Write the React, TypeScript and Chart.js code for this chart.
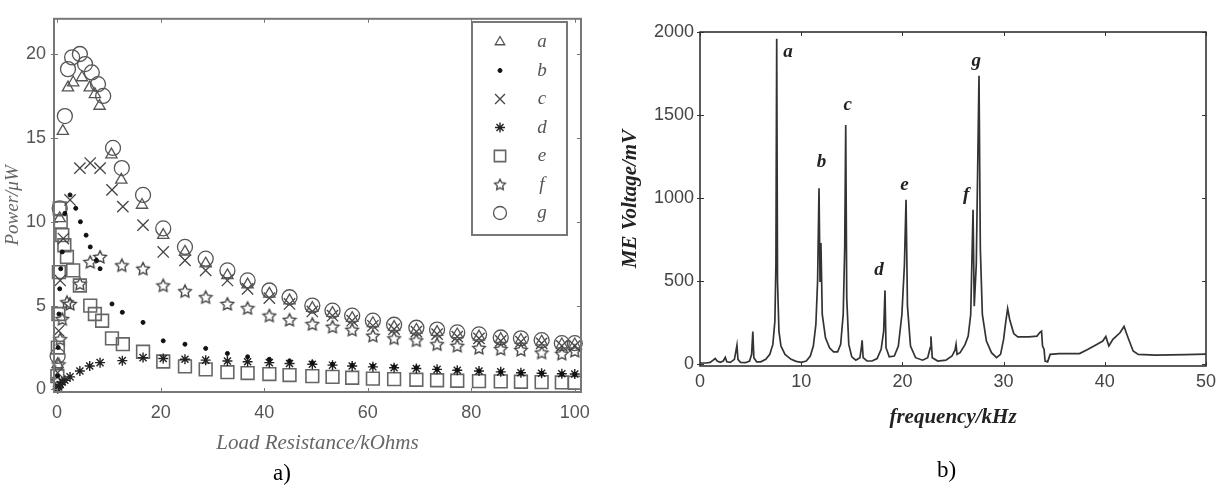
import React, { useEffect, useRef } from 'react';
import { Chart, registerables } from 'chart.js';
import { drawPoint } from 'chart.js/helpers';

Chart.register(...registerables);

// ---------- Panel a) : power vs load resistance ----------
const SERIES_NAMES = ['a', 'b', 'c', 'd', 'e', 'f', 'g'];
const LEFT_X_TICKS = [0, 20, 40, 60, 80, 100];
const LEFT_Y_TICKS = [0, 5, 10, 15, 20];

const R_TAIL = [20.5, 24.7, 28.7, 32.9, 36.8, 41, 44.9, 49.3, 53.2, 57, 61, 65.1, 69.4, 73.4, 77.3, 81.5, 85.7, 89.6, 93.6, 97.5, 100];

const R_A_HEAD = [0.1, 0.5, 1.1, 2.1, 3.1, 4.8, 6.3, 7.3, 8.2, 10.5, 12.4, 16.4];
const P_A = [1.5, 10.2, 15.4, 18.0, 18.3, 18.6, 18.0, 17.6, 16.9, 14.0, 12.5, 11.0,
  9.2, 8.2, 7.5, 6.8, 6.25, 5.7, 5.3, 4.85, 4.55, 4.25, 3.95, 3.72, 3.55, 3.42, 3.28, 3.15, 3.0, 2.95, 2.85, 2.68, 2.68];

const R_B_HEAD = [0.1, 0.2, 0.35, 0.5, 0.7, 1.0, 1.5, 2.5, 3.6, 4.5, 5.6, 6.4, 7.6, 8.3, 10.6, 12.6, 16.6];
const P_B = [0.8, 2.5, 4.5, 6.0, 7.2, 8.2, 10.5, 11.6, 10.8, 10.0, 9.2, 8.5, 7.7, 7.2, 5.1, 4.6, 4.0,
  2.9, 2.7, 2.45, 2.15, 1.95, 1.8, 1.7, 1.6, 1.5, 1.45, 1.4, 1.35, 1.3, 1.2, 1.15, 1.1, 1.05, 1.0, 0.97, 0.93, 0.9];

const R_C_HEAD = [0.1, 0.3, 0.6, 1.2, 2.5, 4.4, 6.4, 8.3, 10.6, 12.7, 16.6];
const P_C = [1.0, 3.5, 6.5, 9.0, 11.3, 13.2, 13.5, 13.2, 11.9, 10.9, 9.8,
  8.2, 7.7, 7.1, 6.5, 6.0, 5.45, 5.1, 4.65, 4.4, 4.1, 3.8, 3.6, 3.45, 3.3, 3.15, 3.05, 2.9, 2.85, 2.75, 2.6, 2.6];

const R_D_HEAD = [0.1, 0.3, 0.6, 1.0, 1.5, 2.5, 4.4, 6.3, 8.3, 12.6, 16.6];
const P_D = [0.05, 0.15, 0.3, 0.45, 0.55, 0.75, 1.1, 1.4, 1.6, 1.72, 1.9,
  1.85, 1.8, 1.75, 1.7, 1.65, 1.6, 1.55, 1.5, 1.45, 1.4, 1.35, 1.3, 1.25, 1.2, 1.15, 1.1, 1.05, 1.0, 0.97, 0.94, 0.92];

const R_E_HEAD = [0.05, 0.15, 0.25, 0.35, 0.5, 0.7, 1.0, 1.4, 1.9, 3.1, 4.4, 6.4, 7.3, 8.7, 10.6, 12.7, 16.6];
const P_E = [0.8, 2.5, 4.5, 7.0, 10.8, 10.0, 9.2, 8.6, 7.9, 7.1, 6.2, 5.0, 4.5, 4.1, 3.05, 2.7, 2.25,
  1.67, 1.38, 1.2, 1.03, 0.98, 0.92, 0.86, 0.8, 0.75, 0.7, 0.65, 0.62, 0.58, 0.55, 0.52, 0.5, 0.48, 0.46, 0.44, 0.42, 0.4];

const R_F_HEAD = [0.1, 0.3, 0.6, 1.0, 1.9, 2.5, 4.4, 6.4, 8.3, 12.5, 16.6];
const P_F = [0.5, 1.5, 3.0, 4.2, 5.2, 5.1, 6.3, 7.6, 7.9, 7.4, 7.2,
  6.2, 5.86, 5.5, 5.1, 4.85, 4.4, 4.15, 3.9, 3.74, 3.56, 3.2, 3.05, 2.93, 2.7, 2.6, 2.47, 2.41, 2.36, 2.2, 2.13, 2.3];

const R_G_HEAD = [0.1, 0.5, 1.5, 2.1, 2.9, 4.4, 5.4, 6.7, 7.9, 8.9, 10.8, 12.5, 16.6];
const P_G = [2.0, 10.8, 16.3, 19.1, 19.8, 20.0, 19.4, 18.9, 18.2, 17.5, 14.4, 13.2, 11.6,
  9.6, 8.5, 7.8, 7.1, 6.5, 5.9, 5.5, 5.0, 4.7, 4.4, 4.1, 3.86, 3.68, 3.57, 3.4, 3.28, 3.1, 3.05, 2.94, 2.76, 2.76];

// ---------- Panel b) : ME voltage spectrum ----------
const RIGHT_X_TICKS = [0, 10, 20, 30, 40, 50];
const RIGHT_Y_TICKS = [0, 500, 1000, 1500, 2000];

const FREQ = [0.0, 0.6, 1.0, 1.3, 1.5, 1.7, 2.0, 2.3, 2.5, 2.65, 3.0, 3.4, 3.55, 3.65, 3.75, 4.0, 4.5, 4.9, 5.1, 5.22, 5.32, 5.6, 6.0, 6.5, 6.9, 7.2, 7.4, 7.5, 7.58, 7.66, 7.8, 8.0, 8.4, 9.0, 9.5, 10.0, 10.5, 10.9, 11.2, 11.45, 11.62, 11.76, 11.86, 11.95, 12.08, 12.4, 12.8, 13.2, 13.6, 13.9, 14.15, 14.3, 14.4, 14.5, 14.7, 15.0, 15.4, 15.8, 15.95, 16.02, 16.12, 16.5, 17.0, 17.5, 17.9, 18.15, 18.28, 18.38, 18.7, 19.2, 19.6, 19.95, 20.2, 20.36, 20.5, 20.8, 21.3, 22.0, 22.5, 22.75, 22.82, 22.95, 23.5, 24.3, 24.9, 25.2, 25.3, 25.4, 25.7, 26.2, 26.5, 26.75, 26.98, 27.1, 27.3, 27.57, 27.7, 27.9, 28.3, 28.8, 29.3, 29.7, 30.0, 30.2, 30.4, 30.6, 31.0, 31.4, 32.5, 33.3, 33.55, 33.75, 33.85, 34.0, 34.1, 34.35, 34.6, 35.5, 37.5, 38.3, 39.2, 39.8, 40.1, 40.4, 40.8, 41.5, 41.9, 42.3, 42.8, 43.3, 45.0, 48.0, 50.0];
const VOLT = [8, 8, 12, 25, 35, 20, 12, 20, 42, 15, 12, 30, 80, 115, 30, 12, 10, 20, 60, 198, 40, 15, 15, 30, 60, 120, 260, 600, 1960, 500, 200, 110, 60, 30, 18, 12, 20, 50, 110, 240, 500, 1060, 500, 730, 300, 160, 100, 75, 75, 120, 300, 700, 1440, 400, 120, 45, 25, 40, 100, 145, 40, 20, 20, 35, 90, 200, 445, 100, 45, 50, 110, 300, 600, 990, 350, 110, 40, 25, 40, 100, 168, 40, 20, 25, 50, 85, 120, 60, 70, 120, 170, 300, 930, 350, 600, 1736, 700, 300, 140, 70, 40, 60, 150, 250, 336, 270, 185, 165, 165, 170, 190, 200, 110, 90, 20, 15, 60, 65, 65, 90, 120, 140, 168, 110, 150, 190, 228, 160, 80, 60, 55, 58, 62];

const PEAK_LABELS = ['a', 'b', 'c', 'd', 'e', 'f', 'g'];
const PEAK_LABEL_X = [8.7, 12.0, 14.6, 17.7, 20.2, 26.3, 27.3];
const PEAK_LABEL_Y = [1880, 1216, 1563, 569, 1078, 1018, 1826];

// ---------- helpers ----------
const pts = (xs: number[], ys: number[]) => xs.map((x, i) => ({ x, y: ys[i] }));

function makeStarImage(size: number, color: string, lw: number) {
  const c = document.createElement('canvas');
  c.width = size;
  c.height = size;
  const g = c.getContext('2d')!;
  const cx = size / 2, cy = size / 2 + 0.5;
  const R = size / 2 - lw;
  const r = R * 0.5;
  g.beginPath();
  for (let k = 0; k < 10; k++) {
    const ang = -Math.PI / 2 + (k * Math.PI) / 5;
    const rad = k % 2 === 0 ? R : r;
    const px = cx + rad * Math.cos(ang);
    const py = cy + rad * Math.sin(ang);
    if (k === 0) g.moveTo(px, py); else g.lineTo(px, py);
  }
  g.closePath();
  g.strokeStyle = color;
  g.lineWidth = lw;
  g.stroke();
  return c;
}

const SANS = "'Liberation Sans', Arial, sans-serif";
const SERIF = "'Liberation Serif', 'Times New Roman', serif";

const boxTicksPlugin = {
  id: 'boxTicks',
  afterDatasetsDraw(chart: any, _args: any, opts: any) {
    const { ctx, chartArea } = chart;
    const { left, right, top, bottom } = chartArea;
    const x = chart.scales.x;
    const y = chart.scales.y;
    const L = opts.tickLen || 4;
    ctx.save();
    ctx.strokeStyle = opts.color;
    ctx.lineWidth = opts.tickWidth || 1;
    ctx.beginPath();
    x.ticks.forEach((t: any) => {
      const px = Math.round(x.getPixelForValue(t.value)) + 0.5;
      ctx.moveTo(px, bottom); ctx.lineTo(px, bottom - L);
      ctx.moveTo(px, top); ctx.lineTo(px, top + L);
    });
    y.ticks.forEach((t: any) => {
      const py = Math.round(y.getPixelForValue(t.value)) + 0.5;
      ctx.moveTo(left, py); ctx.lineTo(left + L, py);
      ctx.moveTo(right, py); ctx.lineTo(right - L, py);
      ctx.moveTo(left, py); ctx.lineTo(left - 3, py);
    });
    ctx.stroke();
    ctx.lineWidth = opts.width;
    ctx.strokeRect(left, top, right - left, bottom - top);
    ctx.restore();
  },
};

const boxLegendPlugin = {
  id: 'boxLegend',
  afterDraw(chart: any, _args: any, opts: any) {
    const { ctx } = chart;
    ctx.save();
    ctx.fillStyle = '#fff';
    ctx.fillRect(opts.x0, opts.y0, opts.x1 - opts.x0, opts.y1 - opts.y0);
    ctx.strokeStyle = opts.borderColor;
    ctx.lineWidth = 2;
    ctx.strokeRect(opts.x0, opts.y0, opts.x1 - opts.x0, opts.y1 - opts.y0);
    chart.data.datasets.forEach((ds: any, i: number) => {
      const yy = opts.rowTop + i * opts.rowStep;
      ctx.save();
      ctx.strokeStyle = ds.pointBorderColor;
      ctx.fillStyle = ds.pointBackgroundColor;
      ctx.lineWidth = ds.pointBorderWidth;
      drawPoint(ctx, {
        pointStyle: ds.legendStyle || ds.pointStyle,
        radius: ds.legendRadius,
        rotation: 0,
        borderWidth: ds.pointBorderWidth,
      }, opts.markerX, yy);
      ctx.restore();
      ctx.fillStyle = opts.textColor;
      ctx.font = `italic 19px ${SERIF}`;
      ctx.textAlign = 'center';
      ctx.textBaseline = 'middle';
      ctx.fillText(ds.label, opts.labelX, yy);
    });
    ctx.restore();
  },
};

const peakLabelPlugin = {
  id: 'peakLabels',
  afterDatasetsDraw(chart: any) {
    const { ctx } = chart;
    const x = chart.scales.x;
    const y = chart.scales.y;
    ctx.save();
    ctx.fillStyle = '#222';
    ctx.font = `italic bold 19px ${SERIF}`;
    ctx.textAlign = 'center';
    ctx.textBaseline = 'middle';
    PEAK_LABELS.forEach((t, i) => {
      ctx.fillText(t, x.getPixelForValue(PEAK_LABEL_X[i]), y.getPixelForValue(PEAK_LABEL_Y[i]));
    });
    ctx.restore();
  },
};

function setTicks(values: number[]) {
  return (scale: any) => {
    scale.ticks = values.map((v) => ({ value: v }));
  };
}

const plainLabel = (v: any) => String(v);

export default function App() {
  const leftRef = useRef<HTMLCanvasElement>(null);
  const rightRef = useRef<HTMLCanvasElement>(null);

  useEffect(() => {
    const starImg = makeStarImage(16, '#444', 1.4);
    const starLegend = makeStarImage(14, '#444', 1.3);

    const mk = (label: string, xs: number[], ys: number[], style: any, radius: number, color: string, bg: string, bw: number, legendRadius: number, legendStyle?: any) => ({
      label,
      data: pts(xs, ys),
      pointStyle: style,
      pointRadius: radius,
      pointHoverRadius: radius,
      pointBorderColor: color,
      pointBackgroundColor: bg,
      pointBorderWidth: bw,
      showLine: false,
      clip: false,
      legendRadius,
      legendStyle,
    });
    const none = 'rgba(0,0,0,0)';

    const leftDatasets = [
      mk(SERIES_NAMES[0], [...R_A_HEAD, ...R_TAIL], P_A, 'triangle', 6.5, '#555', none, 1.3, 5.5),
      mk(SERIES_NAMES[1], [...R_B_HEAD, ...R_TAIL], P_B, 'circle', 2, '#111', '#111', 1, 2),
      mk(SERIES_NAMES[2], [...R_C_HEAD, ...R_TAIL], P_C, 'crossRot', 8, '#444', none, 1.3, 7),
      mk(SERIES_NAMES[3], [...R_D_HEAD, ...R_TAIL], P_D, 'star', 5, '#222', none, 1.4, 5),
      mk(SERIES_NAMES[4], [...R_E_HEAD, ...R_TAIL], P_E, 'rect', 9, '#666', none, 1.6, 8),
      mk(SERIES_NAMES[5], [...R_F_HEAD, ...R_TAIL], P_F, starImg, 8, '#444', none, 1.3, 7, starLegend),
      mk(SERIES_NAMES[6], [...R_G_HEAD, ...R_TAIL], P_G, 'circle', 7.5, '#555', none, 1.3, 6.5),
    ];

    const left = new Chart(leftRef.current!, {
      type: 'scatter',
      data: { datasets: leftDatasets as any },
      options: {
        animation: false,
        responsive: false,
        devicePixelRatio: 1,
        layout: { padding: { left: 0, top: 5, right: 18, bottom: 0 } },
        plugins: {
          legend: { display: false },
          tooltip: { enabled: false },
          boxTicks: { color: '#777', width: 2, tickLen: 4 },
          boxLegend: {
            x0: 472, y0: 22, x1: 567, y1: 235,
            markerX: 500, labelX: 542, rowTop: 42, rowStep: 28.5,
            borderColor: '#777', textColor: '#555',
          },
        } as any,
        scales: {
          x: {
            type: 'linear',
            min: -0.6,
            max: 101.2,
            afterBuildTicks: setTicks(LEFT_X_TICKS),
            afterFit: (s: any) => { s.height = 94; },
            grid: { display: false, drawTicks: false },
            border: { display: false },
            ticks: { color: '#555', font: { family: SANS, size: 18 }, padding: 10, maxRotation: 0, callback: plainLabel },
            title: {
              display: true,
              text: 'Load Resistance/kOhms',
              color: '#666',
              font: { family: SERIF, size: 21, style: 'italic' },
              padding: { top: 0, bottom: 30 },
            },
          },
          y: {
            type: 'linear',
            min: -0.15,
            max: 22.1,
            afterBuildTicks: setTicks(LEFT_Y_TICKS),
            afterFit: (s: any) => { s.width = 54; },
            grid: { display: false, drawTicks: false },
            border: { display: false },
            ticks: { color: '#555', font: { family: SANS, size: 18 }, padding: 8, callback: plainLabel },
            title: {
              display: true,
              text: 'Power/μW',
              color: '#666',
              font: { family: SERIF, size: 19, style: 'italic' },
              padding: { top: 2, bottom: 0 },
            },
          },
        },
      },
      plugins: [boxTicksPlugin, boxLegendPlugin],
    } as any);

    const right = new Chart(rightRef.current!, {
      type: 'scatter',
      data: {
        datasets: [
          {
            label: 'ME Voltage',
            data: pts(FREQ, VOLT),
            showLine: true,
            borderColor: '#333',
            borderWidth: 1.7,
            pointRadius: 0,
            tension: 0,
          },
        ],
      },
      options: {
        animation: false,
        responsive: false,
        devicePixelRatio: 1,
        layout: { padding: { left: 0, top: 32, right: 18, bottom: 0 } },
        plugins: {
          legend: { display: false },
          tooltip: { enabled: false },
          boxTicks: { color: '#333', width: 1.6, tickLen: 4 },
        } as any,
        scales: {
          x: {
            type: 'linear',
            min: 0,
            max: 50,
            afterBuildTicks: setTicks(RIGHT_X_TICKS),
            afterFit: (s: any) => { s.height = 120; },
            grid: { display: false, drawTicks: false },
            border: { display: false },
            ticks: { color: '#444', font: { family: SANS, size: 18 }, padding: 5, maxRotation: 0, callback: plainLabel },
            title: {
              display: true,
              text: 'frequency/kHz',
              color: '#222',
              font: { family: SERIF, size: 21, style: 'italic', weight: 'bold' },
              padding: { top: 0, bottom: 56 },
            },
          },
          y: {
            type: 'linear',
            min: -10,
            max: 2000,
            afterBuildTicks: setTicks(RIGHT_Y_TICKS),
            afterFit: (s: any) => { s.width = 100; },
            grid: { display: false, drawTicks: false },
            border: { display: false },
            ticks: { color: '#444', font: { family: SANS, size: 18 }, padding: 6, callback: plainLabel },
            title: {
              display: true,
              text: 'ME Voltage/mV',
              color: '#222',
              font: { family: SERIF, size: 21, style: 'italic', weight: 'bold' },
              padding: { top: 18, bottom: 0 },
            },
          },
        },
      },
      plugins: [boxTicksPlugin, peakLabelPlugin],
    } as any);

    return () => {
      left.destroy();
      right.destroy();
    };
  }, []);

  const panelLabel: React.CSSProperties = {
    position: 'absolute',
    fontFamily: SERIF,
    fontSize: 23,
    lineHeight: '23px',
    color: '#000',
  };

  return (
    <div style={{ position: 'fixed', left: 0, top: 0, width: 1224, height: 486, background: '#fff', overflow: 'hidden' }}>
      <canvas ref={leftRef} width={600} height={486} style={{ position: 'absolute', left: 0, top: 0, width: 600, height: 486 }} />
      <canvas ref={rightRef} width={624} height={486} style={{ position: 'absolute', left: 600, top: 0, width: 624, height: 486 }} />
      <div style={{ ...panelLabel, left: 273, top: 461 }}>a)</div>
      <div style={{ ...panelLabel, left: 937, top: 458 }}>b)</div>
    </div>
  );
}
